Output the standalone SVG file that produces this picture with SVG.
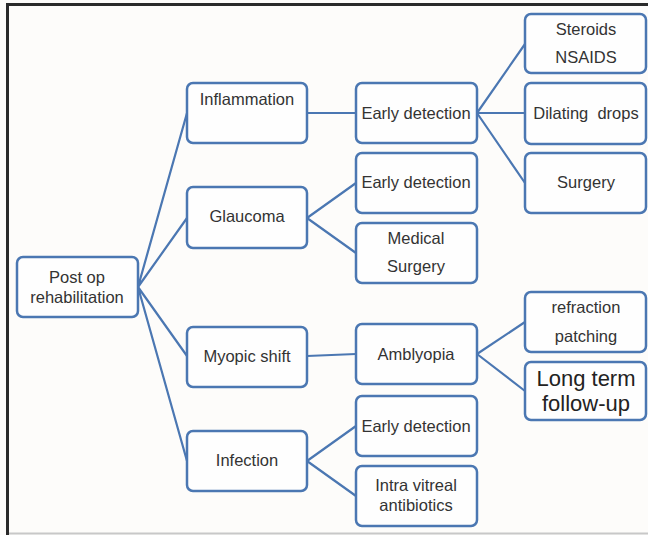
<svg xmlns="http://www.w3.org/2000/svg" width="648" height="535" viewBox="0 0 648 535">
<style>
.box{fill:#fefefe;stroke:#4b77b2;stroke-width:2.5}
.ln{stroke:#4b77b2;stroke-width:2.2;fill:none}
text{font-family:"Liberation Sans",Arial,sans-serif;font-size:16.5px;fill:#333;text-anchor:middle;white-space:pre}
.big{font-size:22px;fill:#222}
</style>
<rect x="0" y="0" width="648" height="535" fill="#fdfcfa"/>
<path d="M7.5 535 V4.5 H648" fill="none" stroke="#2a2a2a" stroke-width="3"/>
<line x1="9" y1="533.5" x2="648" y2="533.5" stroke="#c8c8c8" stroke-width="2"/>
<g id="connectors">
<path class="ln" d="M138 287 L187 113 M138 287 L187 218 M138 287 L187 356 M138 287 L187 461"/>
<path class="ln" d="M307 113 H356"/>
<path class="ln" d="M307 218 L356 183 M307 218 L356 253"/>
<path class="ln" d="M477 113 L525 44 M477 113 H525 M477 113 L525 183"/>
<path class="ln" d="M307 356 L356 354"/>
<path class="ln" d="M477 354 L525 322 M477 354 L525 391"/>
<path class="ln" d="M307 461 L356 426 M307 461 L356 496"/>
</g>
<g id="postop"><rect class="box" x="17" y="257" width="121" height="60" rx="6"/><text x="77" y="283">Post op</text><text x="77" y="303">rehabilitation</text></g>
<g id="inflammation"><rect class="box" x="187" y="83" width="120" height="60" rx="6"/><text x="247" y="105">Inflammation</text></g>
<g id="early1"><rect class="box" x="356" y="83" width="121" height="60" rx="6"/><text x="416" y="119">Early detection</text></g>
<g id="glaucoma"><rect class="box" x="187" y="187" width="120" height="61" rx="6"/><text x="247" y="222">Glaucoma</text></g>
<g id="early2"><rect class="box" x="356" y="153" width="121" height="60" rx="6"/><text x="416" y="188">Early detection</text></g>
<g id="medical"><rect class="box" x="356" y="223" width="121" height="60" rx="6"/><text x="416" y="244">Medical</text><text x="416" y="272">Surgery</text></g>
<g id="steroids"><rect class="box" x="525" y="14" width="121" height="59" rx="6"/><text x="586" y="35">Steroids</text><text x="586" y="63">NSAIDS</text></g>
<g id="dilating"><rect class="box" x="525" y="83" width="121" height="61" rx="6"/><text x="586" y="119">Dilating  drops</text></g>
<g id="surgery"><rect class="box" x="525" y="153" width="121" height="60" rx="6"/><text x="586" y="188">Surgery</text></g>
<g id="myopic"><rect class="box" x="187" y="327" width="120" height="60" rx="6"/><text x="247" y="362">Myopic shift</text></g>
<g id="amblyopia"><rect class="box" x="356" y="324" width="121" height="60" rx="6"/><text x="416" y="360">Amblyopia</text></g>
<g id="refraction"><rect class="box" x="525" y="292" width="121" height="60" rx="6"/><text x="586" y="313">refraction</text><text x="586" y="342">patching</text></g>
<g id="longterm"><rect class="box" x="525" y="362" width="121" height="58" rx="6"/><text class="big" x="586" y="386">Long term</text><text class="big" x="586" y="411">follow-up</text></g>
<g id="infection"><rect class="box" x="187" y="431" width="120" height="60" rx="6"/><text x="247" y="466">Infection</text></g>
<g id="early3"><rect class="box" x="356" y="396" width="121" height="60" rx="6"/><text x="416" y="432">Early detection</text></g>
<g id="intra"><rect class="box" x="356" y="466" width="121" height="60" rx="6"/><text x="416" y="491">Intra vitreal</text><text x="416" y="511">antibiotics</text></g>
</svg>
